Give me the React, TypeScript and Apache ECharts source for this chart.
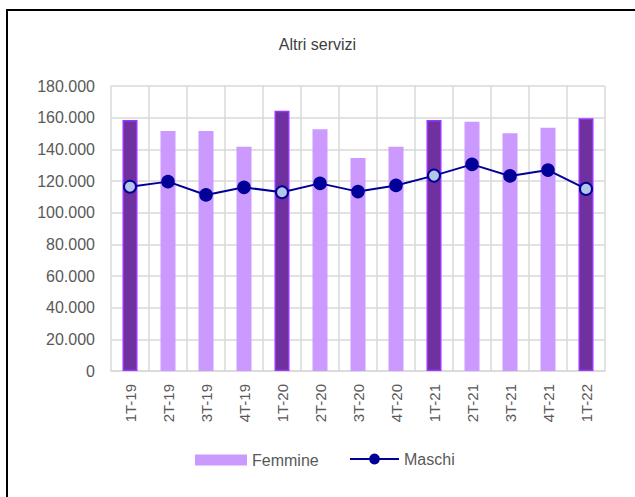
import React, { useEffect, useRef } from "react";
import * as echarts from "echarts";

const title = "Altri servizi";
const categories = ["1T-19", "2T-19", "3T-19", "4T-19", "1T-20", "2T-20", "3T-20", "4T-20", "1T-21", "2T-21", "3T-21", "4T-21", "1T-22"];
const femmine = [158500, 151600, 151600, 141700, 164400, 152700, 134500, 141700, 158500, 157500, 150100, 153700, 159600];
const maschi = [116400, 119600, 111200, 116000, 112900, 118500, 113300, 117200, 123400, 130500, 123200, 126900, 115000];
const yTicks = { min: 0, max: 180000, interval: 20000 };

const fmt = (v: number) => {
  const s = String(Math.round(v));
  return s.replace(/\B(?=(\d{3})+(?!\d))/g, ".");
};

const isFirstQuarter = (c: string) => c.startsWith("1T");

export default function App() {
  const ref = useRef<HTMLDivElement>(null);
  useEffect(() => {
    if (!ref.current) return;
    const chart = echarts.init(ref.current, undefined, { renderer: "svg" });
    const font = "'Liberation Sans', Arial, sans-serif";
    const legendText = { fontSize: 16, color: "#595959", fontFamily: font };
    chart.setOption({
      animation: false,
      backgroundColor: "#ffffff",
      textStyle: { fontFamily: font },
      title: {
        text: title,
        left: "center",
        top: 36,
        padding: 0,
        textStyle: { fontSize: 16, fontWeight: "normal", color: "#404040", fontFamily: font },
      },
      graphic: [
        {
          type: "rect",
          shape: { x: 7, y: 10, width: 700, height: 600 },
          style: { fill: "none", stroke: "#000000", lineWidth: 2 },
          silent: true,
        },
      ],
      legend: [
        {
          left: 195,
          top: 452,
          padding: 0,
          itemWidth: 52,
          itemHeight: 11,
          textStyle: legendText,
          data: [{ name: "Femmine", icon: "rect", itemStyle: { color: "#CC99FF", borderWidth: 0 } }],
        },
        {
          left: 349,
          top: 451,
          padding: 0,
          itemWidth: 49,
          itemHeight: 11,
          textStyle: legendText,
          data: [{ name: "Maschi" }],
        },
      ],
      grid: { left: 111, top: 86, right: 30, bottom: 126, containLabel: false },
      xAxis: {
        type: "category",
        data: categories,
        boundaryGap: true,
        axisTick: { show: false },
        axisLine: { show: true, lineStyle: { color: "#D9D9D9", width: 1.5 } },
        splitLine: { show: true, lineStyle: { color: "#D9D9D9", width: 1.5 } },
        axisLabel: { rotate: 90, fontSize: 15, color: "#595959", margin: 13, interval: 0, fontFamily: font },
      },
      yAxis: {
        type: "value",
        min: yTicks.min,
        max: yTicks.max,
        interval: yTicks.interval,
        axisLine: { show: false },
        axisTick: { show: false },
        splitLine: { show: true, lineStyle: { color: "#D9D9D9", width: 1.5 } },
        axisLabel: { fontSize: 16, color: "#595959", margin: 16, formatter: (v: number) => fmt(v), fontFamily: font },
      },
      series: [
        {
          name: "Femmine",
          type: "bar",
          barWidth: 15,
          itemStyle: { color: "#CC99FF" },
          data: femmine.map((v, i) =>
            isFirstQuarter(categories[i])
              ? { value: v, itemStyle: { color: "#7030A0", borderColor: "#9933FF", borderWidth: 1.5 } }
              : { value: v }
          ),
        },
        {
          name: "Maschi",
          type: "line",
          symbol: "circle",
          symbolSize: 12,
          lineStyle: { color: "#000099", width: 2 },
          itemStyle: { color: "#000099", borderColor: "#000099", borderWidth: 1.5 },
          data: maschi.map((v, i) =>
            isFirstQuarter(categories[i])
              ? { value: v, itemStyle: { color: "#B4C7E7", borderColor: "#000099", borderWidth: 2 } }
              : { value: v }
          ),
          z: 5,
        },
      ],
    });
    return () => chart.dispose();
  }, []);
  return (
    <div style={{ position: "absolute", left: 0, top: 0, width: 635, height: 497, overflow: "hidden" }}>
      <div ref={ref} style={{ width: 635, height: 497 }} />
    </div>
  );
}
